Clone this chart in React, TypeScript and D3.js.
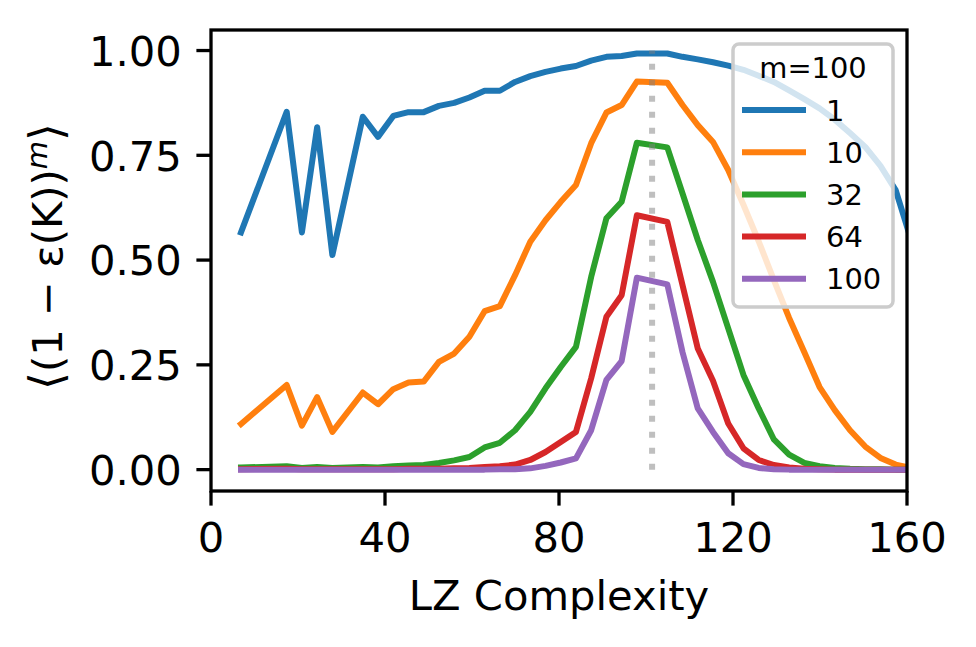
import React from 'react';
import * as d3 from 'd3';

// LZ complexity bins (some bins are empty, so they are missing here)
const lz = [6.9, 17.4, 20.9, 24.4, 27.9, 34.9, 38.4, 41.9, 45.4, 48.9, 52.4, 55.9, 59.4, 62.9, 66.4,
  69.9, 73.4, 76.9, 80.4, 83.9, 87.4, 90.9, 94.4, 97.9, 104.9, 108.4, 111.9, 115.4, 118.9, 122.4,
  125.9, 129.4, 132.9, 136.4, 139.9, 143.4, 146.9, 150.4, 153.9, 157.4, 160.9];

// <(1 - eps(K))^m> for each m
const m1 = [0.566, 0.854, 0.566, 0.817, 0.512, 0.842, 0.794, 0.844, 0.853, 0.853, 0.868, 0.875, 0.888, 0.904, 0.904,
  0.925, 0.939, 0.949, 0.957, 0.963, 0.976, 0.985, 0.987, 0.993, 0.993, 0.985, 0.979, 0.972, 0.964, 0.954,
  0.940, 0.925, 0.905, 0.884, 0.862, 0.835, 0.803, 0.770, 0.725, 0.667, 0.55];
const m10 = [0.109, 0.202, 0.105, 0.173, 0.090, 0.184, 0.156, 0.192, 0.208, 0.210, 0.257, 0.277, 0.317, 0.378, 0.390,
  0.464, 0.544, 0.595, 0.639, 0.679, 0.779, 0.852, 0.870, 0.926, 0.923, 0.870, 0.822, 0.782, 0.715, 0.632,
  0.545, 0.452, 0.362, 0.280, 0.197, 0.142, 0.094, 0.055, 0.028, 0.012, 0.004];
const m32 = [0.005, 0.008, 0.004, 0.006, 0.004, 0.006, 0.005, 0.008, 0.010, 0.011, 0.016, 0.022, 0.030, 0.053, 0.064,
  0.094, 0.138, 0.194, 0.245, 0.293, 0.460, 0.600, 0.639, 0.780, 0.769, 0.659, 0.548, 0.448, 0.337, 0.226,
  0.146, 0.072, 0.036, 0.016, 0.008, 0.004, 0.002, 0.001, 0.001, 0.0, 0.0];
const m64 = [0.001, 0.002, 0.001, 0.001, 0.001, 0.001, 0.001, 0.001, 0.002, 0.002, 0.002, 0.003, 0.004, 0.006, 0.008,
  0.012, 0.023, 0.042, 0.066, 0.090, 0.218, 0.365, 0.416, 0.607, 0.591, 0.440, 0.289, 0.212, 0.110, 0.051,
  0.023, 0.011, 0.005, 0.002, 0.001, 0.0, 0.0, 0.0, 0.0, 0.0, 0.0];
const m100 = [0.0, 0.0, 0.0, 0.0, 0.0, 0.0, 0.0, 0.0, 0.0, 0.0, 0.0, 0.0, 0.0, 0.0, 0.001,
  0.001, 0.003, 0.009, 0.017, 0.027, 0.094, 0.214, 0.259, 0.458, 0.442, 0.280, 0.146, 0.090, 0.039, 0.013,
  0.004, 0.001, 0.0, 0.0, 0.0, 0.0, 0.0, 0.0, 0.0, 0.0, 0.0];

const series = [m1, m10, m32, m64, m100];
const seriesLabels = ['1', '10', '32', '64', '100'];
const colors = ['#1f77b4', '#ff7f0e', '#2ca02c', '#d62728', '#9467bd'];
const legendTitle = 'm=100';
const xTicks = [0, 40, 80, 120, 160];
const yTicks = [0, 0.25, 0.5, 0.75, 1.0];
const peakLZ = 101.4;

export default function App() {
  const W = 976, H = 647;
  const left = 211, right = 907, top = 30, bottom = 491;
  const fs = 41.7, lfs = 28.9, lw = 6;

  const x = d3.scaleLinear().domain([0, 160]).range([left, right]);
  const y = d3.scaleLinear().domain([-0.051, 1.049]).range([bottom, top]);

  const line = d3.line<number>()
    .x((_, i) => x(lz[i]))
    .y(d => y(d));

  // legend geometry
  const lgX = 733, lgY = 44, lgW = 160, lgH = 263;
  const rowGap = 42.2;

  return (
    <svg width={W} height={H} style={{ position: 'absolute', left: 0, top: 0, background: '#fff' }}
      fontFamily="DejaVu Sans">
      <defs>
        <clipPath id="plot">
          <rect x={left} y={top} width={right - left} height={bottom - top} />
        </clipPath>
      </defs>

      <g clipPath="url(#plot)">
        {series.map((s, k) => (
          <path key={k} d={line(s) || ''} fill="none" stroke={colors[k]} strokeWidth={lw}
            strokeLinejoin="round" strokeLinecap="square" />
        ))}
        <line x1={x(peakLZ)} x2={x(peakLZ)} y1={y(0)} y2={y(1)} stroke="gray" strokeOpacity={0.5}
          strokeWidth={lw} strokeDasharray="6,10" />
      </g>

      {/* spines */}
      <rect x={left} y={top} width={right - left} height={bottom - top} fill="none" stroke="#000" strokeWidth={3.3} />

      {/* x axis */}
      {xTicks.map(t => (
        <g key={t}>
          <line x1={x(t)} x2={x(t)} y1={bottom} y2={bottom + 14.6} stroke="#000" strokeWidth={3.3} />
          <text x={x(t)} y={552} fontSize={fs} textAnchor="middle" fill="#000">{t}</text>
        </g>
      ))}
      <text x={(left + right) / 2} y={610} fontSize={fs} textAnchor="middle" fill="#000">LZ Complexity</text>

      {/* y axis */}
      {yTicks.map(t => (
        <g key={t}>
          <line x1={left - 14.6} x2={left} y1={y(t)} y2={y(t)} stroke="#000" strokeWidth={3.3} />
          <text x={left - 29.2} y={y(t) + 15.2} fontSize={fs} textAnchor="end" fill="#000">{t.toFixed(2)}</text>
        </g>
      ))}
      <text transform={`translate(62,${(top + bottom) / 2 - 4}) rotate(-90)`} fontSize={fs} textAnchor="middle" fill="#000">
        <tspan fontSize={46}>⟨</tspan>(1 − ε(K))<tspan dy={-15} fontSize={29} fontStyle="italic">m</tspan><tspan dy={15} fontSize={46}>⟩</tspan>
      </text>

      {/* legend */}
      <rect x={lgX} y={lgY} width={lgW} height={lgH} rx={6} ry={6} fill="#fff" fillOpacity={0.8}
        stroke="#cccccc" strokeWidth={3.5} />
      <text x={lgX + lgW / 2} y={78} fontSize={lfs} textAnchor="middle" fill="#000">{legendTitle}</text>
      {seriesLabels.map((lab, k) => {
        const ly = 110 + k * rowGap;
        return (
          <g key={lab}>
            <line x1={745} x2={803} y1={ly} y2={ly} stroke={colors[k]} strokeWidth={lw} strokeLinecap="square" />
            <text x={826} y={ly + 10.5} fontSize={lfs} fill="#000">{lab}</text>
          </g>
        );
      })}
    </svg>
  );
}
